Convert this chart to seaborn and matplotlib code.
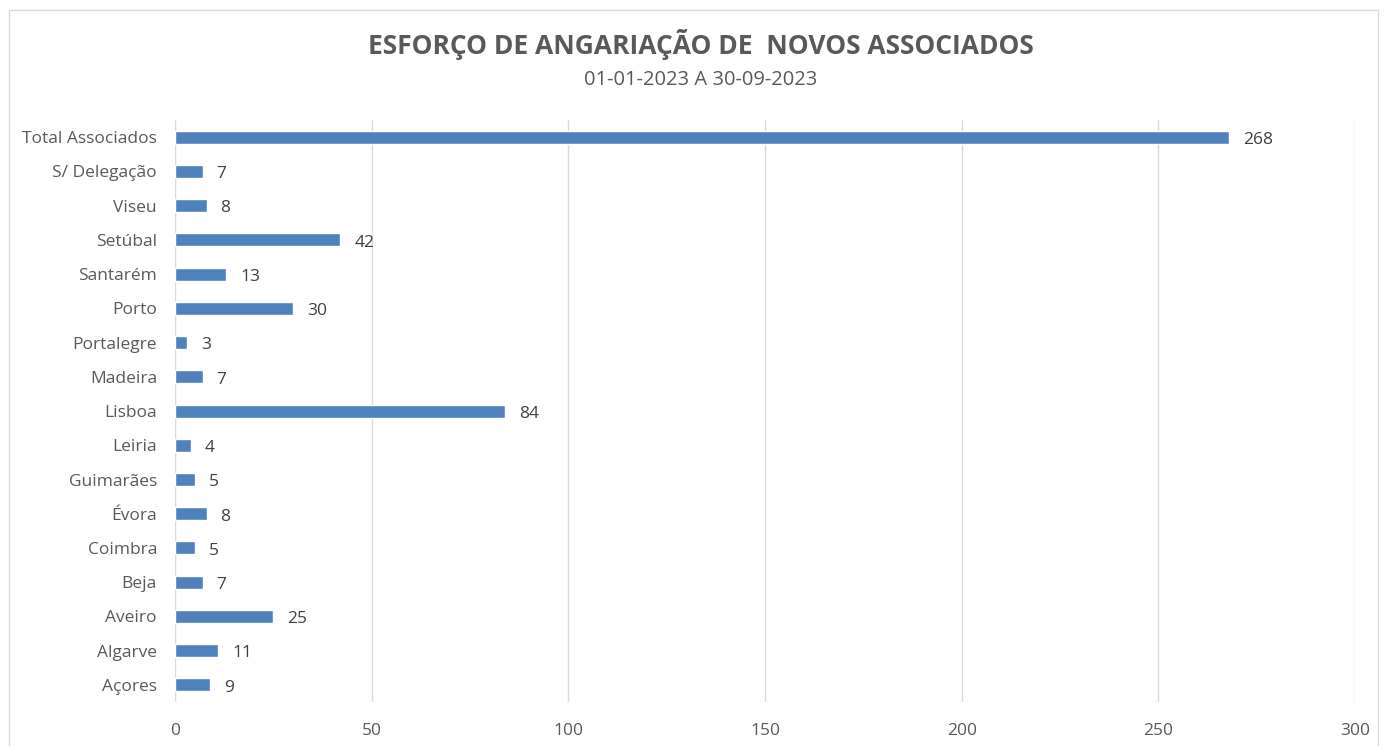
import pandas as pd
import seaborn as sns
from matplotlib import pyplot as plt
from matplotlib.patches import Rectangle

# categories listed top to bottom, as in the chart
delegacoes = ["Total Associados", "S/ Delegação", "Viseu", "Setúbal", "Santarém",
              "Porto", "Portalegre", "Madeira", "Lisboa", "Leiria", "Guimarães",
              "Évora", "Coimbra", "Beja", "Aveiro", "Algarve", "Açores"]
associados = [268, 7, 8, 42, 13, 30, 3, 7, 84, 4, 5, 8, 5, 7, 25, 11, 9]
x_ticks = [0, 50, 100, 150, 200, 250, 300]

df = pd.DataFrame({"delegacao": delegacoes, "associados": associados})

sns.set_theme(style="white")
plt.rcParams['font.family'] = ['Open Sans', 'DejaVu Sans']

fig = plt.figure(figsize=(13.87, 7.46), dpi=100)
ax = fig.add_axes([0.1262, 0.059, 0.8508, 0.780])

sns.barplot(data=df, x="associados", y="delegacao", order=delegacoes,
            orient="h", color="#4F81BD", saturation=1, width=0.38, ax=ax)

for i, v in enumerate(associados):
    ax.annotate(str(v), (v, i), xytext=(10, -2), textcoords="offset points",
                va="center", ha="left", fontsize=12.5, color="#404040")

ax.set_xlim(0, 300)
ax.set_ylim(16.5, -0.5)
ax.set_xticks(x_ticks)
ax.grid(axis="x", color="#D9D9D9", linewidth=1)
ax.set_axisbelow(True)
for s in ax.spines.values():
    s.set_visible(False)
ax.set_xlabel("")
ax.set_ylabel("")
ax.tick_params(axis="y", length=0, pad=13, labelsize=12.5, labelcolor="#595959")
ax.tick_params(axis="x", length=0, pad=15, labelsize=12.5, labelcolor="#595959")

fig.text(0.505, 0.94, "ESFORÇO DE ANGARIAÇÃO DE  NOVOS ASSOCIADOS", ha="center",
         va="center", fontsize=19, fontweight="bold", color="#595959")
fig.text(0.505, 0.893, "01-01-2023 A 30-09-2023", ha="center", va="center",
         fontsize=14.5, color="#595959")

fig.patches.append(Rectangle((0.0065, -0.05), 0.987, 1.037, transform=fig.transFigure,
                             fill=False, edgecolor="#D9D9D9", linewidth=1))

fig.savefig("out.png", dpi=100)
